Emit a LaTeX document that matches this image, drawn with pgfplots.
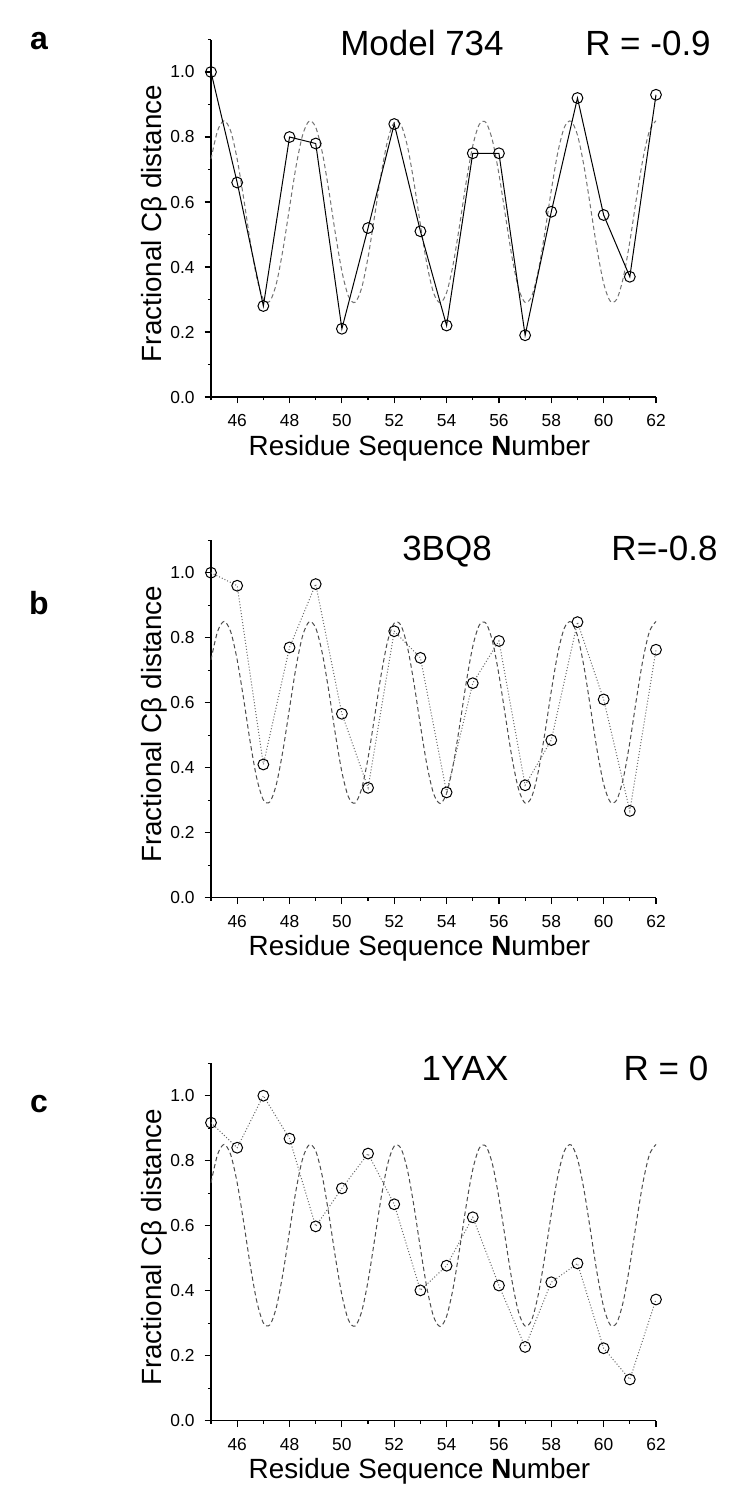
\documentclass[border=0pt]{standalone}
\usepackage{pgfplots}
\pgfplotsset{compat=1.18}
\usepackage{fontspec}
\setmainfont{Liberation Sans}

\pgfplotstableread{
x y
45.00 0.732
45.25 0.819
45.50 0.850
45.75 0.819
46.00 0.732
46.25 0.610
46.50 0.478
46.75 0.367
47.00 0.301
47.25 0.295
47.50 0.350
47.75 0.454
48.00 0.583
48.25 0.710
48.50 0.806
48.75 0.849
49.00 0.830
49.25 0.753
49.50 0.636
49.75 0.504
50.00 0.387
50.25 0.310
50.50 0.291
50.75 0.334
51.00 0.430
51.25 0.557
51.50 0.686
51.75 0.790
52.00 0.845
52.25 0.839
52.50 0.773
52.75 0.662
53.00 0.530
53.25 0.408
53.50 0.321
53.75 0.290
54.00 0.321
54.25 0.408
54.50 0.530
54.75 0.662
55.00 0.773
55.25 0.839
55.50 0.845
55.75 0.790
56.00 0.686
56.25 0.557
56.50 0.430
56.75 0.334
57.00 0.291
57.25 0.310
57.50 0.387
57.75 0.504
58.00 0.636
58.25 0.753
58.50 0.830
58.75 0.849
59.00 0.806
59.25 0.710
59.50 0.583
59.75 0.454
60.00 0.350
60.25 0.295
60.50 0.301
60.75 0.367
61.00 0.478
61.25 0.610
61.50 0.732
61.75 0.819
62.00 0.850
}\helix

\pgfplotstableread{
x y
45 1.00
46 0.66
47 0.28
48 0.80
49 0.78
50 0.21
51 0.52
52 0.84
53 0.51
54 0.22
55 0.75
56 0.75
57 0.19
58 0.57
59 0.92
60 0.56
61 0.37
62 0.93
}\dataA

\pgfplotstableread{
x y
45 1.00
46 0.96
47 0.41
48 0.77
49 0.965
50 0.566
51 0.338
52 0.82
53 0.738
54 0.324
55 0.66
56 0.79
57 0.346
58 0.485
59 0.848
60 0.61
61 0.267
62 0.763
}\dataB

\pgfplotstableread{
x y
45 0.917
46 0.840
47 1.00
48 0.868
49 0.598
50 0.715
51 0.822
52 0.666
53 0.401
54 0.477
55 0.626
56 0.416
57 0.227
58 0.426
59 0.484
60 0.223
61 0.127
62 0.373
}\dataC

\pgfplotsset{
  panel/.style={
    anchor=south west,
    width=222.5pt, height=178.75pt, scale only axis,
    xmin=45, xmax=62, ymin=0, ymax=1.1,
    axis lines=left, axis line style={-, line width=0.6pt},
    tick align=outside,
    major tick length=3.2pt, minor tick length=1.6pt,
    tick style={line width=0.6pt, black},
    xtick={46,48,...,62},
    minor xtick={45,47,...,61},
    ytick={0,0.2,0.4,0.6,0.8,1.0},
    minor ytick={0.1,0.3,0.5,0.7,0.9,1.1},
    yticklabel style={/tikz/xshift=-1.5pt, /pgf/number format/.cd, fixed, fixed zerofill, precision=1},
    xticklabel style={/tikz/yshift=-2pt},
    /pgf/number format/assume math mode=true,
    tick label style={font=\fontsize{8.7}{10}\selectfont},
    label style={font=\fontsize{13.9}{16}\selectfont},
    xlabel={Residue Sequence \textbf{N}umber},
    ylabel={Fractional Cβ distance},
    xlabel style={at={(axis description cs:0.4685,0)}, anchor=center, yshift=-25.5pt},
    ylabel style={at={(axis description cs:-0.128,0.485)}, anchor=center},
    clip=false,
  },
  helixstyle/.style={dashed, dash pattern=on 2.2pt off 1.5pt, black!70, line width=0.5pt, smooth, no marks},
  datamark/.style={mark=o, mark size=2.7pt, mark options={solid, fill=white, draw=black, line width=0.5pt}},
}

\begin{document}
\begin{tikzpicture}
\path[use as bounding box] (0,0) rectangle (375pt,-753pt);

% Panel a
\begin{axis}[panel, at={(105.5pt,-198.5pt)}]
\addplot[helixstyle, black!55] table {\helix};
\addplot[black, line width=0.5pt, datamark] table {\dataA};
\end{axis}
\node[anchor=base, font=\fontsize{17.5}{20}\selectfont] at (211pt,-27.5pt) {Model 734};
\node[anchor=base, font=\fontsize{17.5}{20}\selectfont] at (324pt,-27.5pt) {R = -0.9};
\node[anchor=base, font=\bfseries\fontsize{16}{18}\selectfont] at (19.5pt,-24.5pt) {a};

% Panel b
\begin{axis}[panel, at={(105.5pt,-448.85pt)}]
\addplot[helixstyle] table {\helix};
\addplot[black!60, densely dotted, line width=0.5pt, datamark] table {\dataB};
\end{axis}
\node[anchor=base, font=\fontsize{17.5}{20}\selectfont] at (223.5pt,-280pt) {3BQ8};
\node[anchor=base, font=\fontsize{17.5}{20}\selectfont] at (332.25pt,-280pt) {R=-0.8};
\node[anchor=base, font=\bfseries\fontsize{16}{18}\selectfont] at (19.5pt,-307pt) {b};

% Panel c
\begin{axis}[panel, at={(105.5pt,-710.35pt)}]
\addplot[helixstyle] table {\helix};
\addplot[black!60, densely dotted, line width=0.5pt, datamark] table {\dataC};
\end{axis}
\node[anchor=base, font=\fontsize{17.5}{20}\selectfont] at (232.5pt,-540pt) {1YAX};
\node[anchor=base, font=\fontsize{17.5}{20}\selectfont] at (333pt,-540pt) {R = 0};
\node[anchor=base, font=\bfseries\fontsize{16}{18}\selectfont] at (19.5pt,-556pt) {c};
\end{tikzpicture}
\end{document}
